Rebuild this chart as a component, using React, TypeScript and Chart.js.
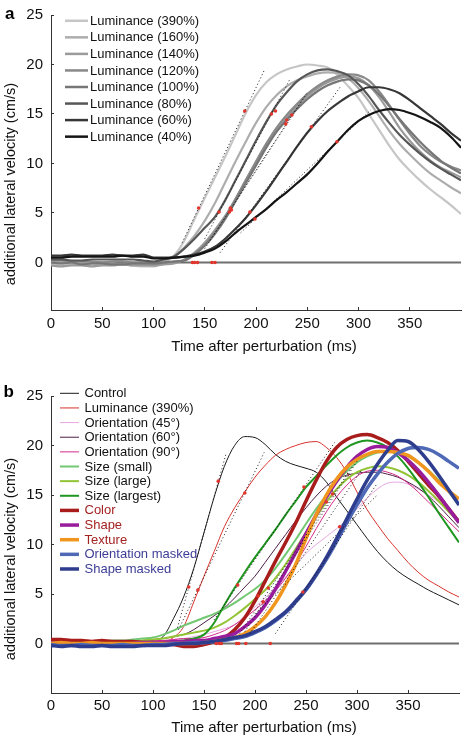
import React, { useEffect, useRef } from 'react';
import { Chart, registerables } from 'chart.js';

Chart.register(...registerables);

const FONT = '"Liberation Sans", Arial, Helvetica, sans-serif';

// ---------- shared axes ----------
const TIME_MS = [0, 10, 20, 30, 40, 50, 60, 70, 80, 90, 100, 110, 120, 130, 140, 150, 160, 170, 180, 190, 200,
  210, 220, 230, 240, 250, 260, 270, 280, 290, 300, 310, 320, 330, 340, 350, 360, 370, 380, 390, 400];
const X_TICKS = [0, 50, 100, 150, 200, 250, 300, 350];
const Y_TICKS = [0, 5, 10, 15, 20, 25];
const X_TITLE = 'Time after perturbation (ms)';
const Y_TITLE = 'additional lateral velocity (cm/s)';

// ---------- panel a : luminance ----------
const A_LUM390 = [-0.2, -0.3, -0.2, -0.1, -0.2, -0.1, -0.2, -0.2, -0.3, -0.4, -0.4, 0.0, 0.7, 2.2, 4.4, 6.5, 8.6, 10.7, 12.9, 15.1, 16.9, 18.2, 19.0, 19.5, 19.8, 20.0, 19.9, 19.7, 18.9, 17.8, 16.6, 15.0, 13.4, 11.8, 10.4, 9.3, 8.3, 7.4, 6.6, 5.8, 4.9];
const A_LUM160 = [0.1, 0.0, -0.1, -0.1, 0.0, -0.1, -0.1, -0.2, -0.2, -0.2, -0.3, 0.1, 0.6, 1.5, 2.7, 4.2, 6.0, 8.1, 10.2, 12.2, 14.1, 15.7, 16.9, 17.8, 18.4, 18.8, 19.1, 19.2, 19.1, 18.6, 17.6, 16.3, 14.8, 13.3, 12.0, 10.9, 9.9, 9.0, 8.3, 7.6, 7.0];
const A_LUM140 = [-0.3, -0.4, -0.3, -0.3, -0.4, -0.3, -0.3, -0.2, -0.3, -0.3, -0.3, -0.2, -0.1, 0.3, 1.0, 2.0, 3.3, 4.7, 6.4, 8.3, 10.1, 11.8, 13.3, 14.6, 15.8, 16.8, 17.6, 18.2, 18.6, 18.8, 18.6, 17.9, 16.7, 15.2, 13.6, 12.3, 11.2, 10.3, 9.6, 9.1, 8.6];
const A_LUM120 = [0.2, 0.2, 0.1, 0.1, 0.1, 0.0, 0.1, 0.1, 0.0, 0.0, -0.1, 0.0, 0.1, 0.2, 0.9, 1.8, 3.1, 4.6, 6.4, 8.3, 10.2, 12.0, 13.6, 14.9, 16.0, 17.0, 17.8, 18.4, 18.8, 19.0, 18.9, 18.4, 17.3, 15.9, 14.4, 13.0, 11.8, 10.9, 10.2, 9.7, 9.3];
const A_LUM100 = [0.0, -0.1, 0.0, -0.2, -0.1, -0.1, -0.2, -0.2, -0.1, -0.1, -0.1, 0.0, 0.1, 0.2, 0.8, 1.7, 2.9, 4.4, 6.2, 8.0, 9.8, 11.6, 13.2, 14.4, 15.5, 16.5, 17.3, 17.9, 18.3, 18.5, 18.4, 17.9, 17.0, 15.8, 14.5, 13.3, 12.2, 11.2, 10.3, 9.6, 9.0];
const A_LUM80 = [0.3, 0.3, 0.2, 0.2, 0.3, 0.3, 0.3, 0.3, 0.3, 0.2, 0.1, 0.3, 0.6, 1.4, 2.4, 3.5, 4.6, 6.3, 8.3, 10.3, 12.3, 14.2, 15.9, 17.2, 18.3, 19.0, 19.4, 19.5, 19.3, 18.9, 18.0, 16.8, 15.4, 14.1, 12.9, 11.9, 11.0, 10.2, 9.5, 8.9, 8.3];
const A_LUM60 = [0.7, 0.7, 0.8, 0.7, 0.7, 0.7, 0.8, 0.7, 0.7, 0.8, 0.5, 0.5, 0.5, 0.6, 0.8, 1.1, 1.6, 2.4, 3.4, 4.5, 5.8, 7.2, 8.7, 10.2, 11.7, 13.1, 14.3, 15.3, 16.1, 16.8, 17.3, 17.7, 17.7, 17.5, 17.1, 16.4, 15.6, 14.8, 14.0, 13.1, 12.3];
const A_LUM40 = [0.5, 0.5, 0.6, 0.6, 0.6, 0.6, 0.6, 0.7, 0.6, 0.6, 0.4, 0.4, 0.5, 0.6, 0.7, 1.0, 1.4, 2.1, 3.0, 3.8, 4.6, 5.4, 6.3, 7.1, 8.0, 8.9, 10.0, 11.2, 12.3, 13.4, 14.3, 14.9, 15.3, 15.5, 15.4, 15.1, 14.7, 14.2, 13.6, 12.7, 11.6];

const A_LABELS = ['Luminance (390%)', 'Luminance (160%)', 'Luminance (140%)', 'Luminance (120%)', 'Luminance (100%)', 'Luminance (80%)', 'Luminance (60%)', 'Luminance (40%)'];
const A_COLORS = ['#c6c6c6', '#adadad', '#9a9a9a', '#898989', '#767676', '#575757', '#373737', '#141414'];

// fitted slopes (t0, v0, t1, v1)
const A_FITS = [
  [128, 2.0, 208, 19.4],
  [150, 2.4, 233, 18.5],
  [150, 1.4, 248, 16.8],
  [155, 2.2, 250, 17.2],
  [165, 1.0, 282, 17.7],
  [185, 3.0, 312, 15.4],
];
const A_MARK_T = [144, 189, 164, 215, 219, 174, 175, 176, 229, 230, 235, 194, 254, 199, 279, 138, 140, 143, 157, 160];
const A_MARK_V = [5.5, 15.3, 5.1, 15.0, 15.3, 5.1, 5.5, 5.3, 14.0, 14.4, 14.9, 5.1, 13.7, 4.4, 12.2, 0, 0, 0, 0, 0];

// ---------- panel b : features ----------
const B_CONTROL = [0.1, 0.0, 0.1, 0.0, 0.0, 0.1, 0.0, 0.0, 0.1, 0.2, 0.3, 0.7, 2.5, 4.7, 7.6, 11.2, 14.8, 17.9, 20.0, 20.9, 20.8, 20.1, 19.1, 18.4, 18.0, 17.7, 17.3, 16.3, 14.8, 13.4, 12.0, 10.6, 9.3, 8.2, 7.3, 6.6, 6.0, 5.4, 4.9, 4.4, 3.9];
const B_LUM390 = [0.1, 0.1, 0.2, 0.1, 0.0, 0.1, 0.1, 0.0, 0.1, 0.1, 0.2, 0.2, 0.6, 1.7, 4.2, 6.8, 9.3, 11.8, 13.7, 15.3, 16.8, 18.0, 19.0, 19.6, 20.0, 20.3, 20.4, 19.8, 18.8, 17.3, 15.3, 13.5, 12.0, 10.6, 9.4, 8.2, 7.2, 6.4, 5.8, 5.2, 4.7];
const B_ORI45 = [0.0, 0.1, 0.0, 0.1, 0.1, 0.0, 0.1, 0.1, 0.1, 0.2, 0.2, 0.3, 0.4, 0.5, 0.7, 0.9, 1.2, 1.5, 1.9, 2.8, 3.7, 4.6, 5.6, 6.7, 7.9, 9.1, 10.0, 10.8, 11.6, 12.5, 13.6, 14.7, 15.6, 16.2, 16.3, 16.1, 15.6, 15.0, 14.3, 13.4, 12.5];
const B_ORI60 = [0.2, 0.1, 0.2, 0.2, 0.1, 0.2, 0.2, 0.1, 0.2, 0.3, 0.4, 0.5, 0.7, 0.9, 1.4, 2.1, 2.8, 3.6, 4.6, 5.7, 6.8, 8.2, 9.6, 11.0, 12.4, 13.7, 14.9, 15.9, 16.6, 17.0, 17.2, 17.3, 17.3, 17.1, 16.8, 16.3, 15.7, 14.9, 13.9, 12.8, 11.7];
const B_ORI90 = [0.1, 0.2, 0.1, 0.1, 0.2, 0.1, 0.1, 0.2, 0.2, 0.2, 0.3, 0.3, 0.4, 0.5, 0.5, 0.6, 0.9, 1.3, 1.9, 2.6, 3.4, 4.3, 5.3, 6.6, 8.1, 9.8, 11.6, 13.3, 14.8, 16.0, 16.9, 17.4, 17.5, 17.3, 16.9, 16.2, 15.3, 14.3, 13.3, 12.3, 11.3];
const B_SIZE_SMALL = [0.1, 0.2, 0.1, 0.2, 0.2, 0.2, 0.3, 0.3, 0.4, 0.5, 0.6, 0.9, 1.3, 1.8, 2.2, 2.6, 3.0, 3.5, 4.1, 4.8, 5.5, 6.4, 7.6, 9.0, 10.5, 12.1, 13.6, 15.0, 16.3, 17.4, 18.3, 18.9, 19.3, 19.4, 19.3, 18.9, 18.3, 17.5, 16.5, 15.3, 14.0];
const B_SIZE_LARGE = [0.1, 0.0, 0.1, 0.1, 0.0, 0.1, 0.1, 0.2, 0.2, 0.3, 0.4, 0.5, 0.7, 0.9, 1.1, 1.3, 1.6, 2.1, 2.8, 3.6, 4.5, 5.4, 6.6, 8.0, 9.6, 11.2, 12.8, 14.3, 15.6, 16.6, 17.3, 17.7, 17.9, 17.8, 17.5, 17.0, 16.3, 15.4, 14.4, 13.3, 12.2];
const B_SIZE_LARGEST = [0.0, -0.1, 0.0, 0.0, -0.1, 0.0, 0.0, 0.0, 0.1, 0.1, 0.1, 0.1, 0.2, 0.3, 0.5, 0.9, 2.1, 3.9, 5.6, 7.2, 8.7, 10.1, 11.5, 13.0, 14.4, 15.8, 16.9, 18.0, 19.0, 19.8, 20.3, 20.5, 20.3, 19.8, 18.9, 17.7, 16.3, 14.8, 13.2, 11.7, 10.2];
const B_COLOR = [0.4, 0.4, 0.3, 0.3, 0.2, 0.3, 0.2, 0.2, 0.2, 0.1, 0.1, 0.0, -0.1, -0.3, -0.3, -0.1, 0.2, 0.6, 1.4, 2.6, 4.3, 6.3, 8.3, 10.2, 12.2, 14.4, 16.5, 18.4, 19.8, 20.6, 21.0, 21.1, 20.8, 20.3, 19.5, 18.4, 17.2, 16.0, 14.9, 13.6, 12.3];
const B_SHAPE = [0.1, 0.0, 0.0, -0.1, 0.0, 0.0, -0.1, -0.1, 0.0, 0.1, 0.1, 0.1, 0.2, 0.2, 0.3, 0.3, 0.5, 0.7, 1.0, 1.7, 2.6, 3.9, 5.5, 7.3, 9.2, 11.1, 13.0, 14.8, 16.4, 17.8, 18.9, 19.6, 19.9, 19.8, 19.3, 18.5, 17.5, 16.3, 15.0, 13.6, 12.2];
const B_TEXTURE = [0.0, 0.1, 0.0, 0.0, 0.1, 0.0, 0.0, 0.0, 0.0, 0.0, 0.0, 0.0, 0.0, 0.0, 0.0, 0.1, 0.2, 0.4, 0.6, 1.0, 1.7, 2.7, 4.1, 5.9, 8.0, 10.6, 13.0, 15.0, 16.6, 17.8, 18.6, 19.1, 19.4, 19.4, 19.3, 19.0, 18.3, 17.4, 16.3, 15.4, 14.6];
const B_ORI_MASKED = [-0.1, -0.2, -0.2, -0.1, -0.2, -0.2, -0.2, -0.1, -0.2, -0.2, -0.1, -0.1, 0.0, 0.0, 0.1, 0.1, 0.2, 0.3, 0.5, 0.7, 1.1, 1.6, 2.3, 3.1, 4.2, 5.4, 6.9, 8.5, 10.3, 12.2, 14.0, 15.7, 17.1, 18.3, 19.2, 19.7, 19.8, 19.6, 19.1, 18.4, 17.7];
const B_SHAPE_MASKED = [-0.2, -0.3, -0.2, -0.3, -0.3, -0.2, -0.3, -0.3, -0.3, -0.2, -0.2, -0.2, -0.1, 0.0, 0.0, 0.1, 0.2, 0.4, 0.6, 0.8, 1.2, 1.7, 2.4, 3.2, 4.3, 5.5, 7.0, 8.7, 10.6, 12.6, 14.6, 16.5, 18.1, 19.5, 20.5, 20.4, 19.6, 18.4, 17.0, 15.5, 14.0];

const B_LABELS = ['Control', 'Luminance (390%)', 'Orientation (45°)', 'Orientation (60°)', 'Orientation (90°)', 'Size (small)', 'Size (large)', 'Size (largest)', 'Color', 'Shape', 'Texture', 'Orientation masked', 'Shape masked'];
const B_COLORS = ['#1a1a1a', '#d8322c', '#e6a6e0', '#4c1f44', '#d42a88', '#72c872', '#92c436', '#1f961f', '#a81c1c', '#981c9c', '#f0961e', '#4f69b6', '#2f3d8e'];
const B_WIDTHS = [1, 1, 1, 1, 1, 2, 2, 2, 3.5, 3.5, 3.5, 3.5, 3.5];
const B_TEXT_COLORS = ['#111', '#111', '#111', '#111', '#111', '#111', '#111', '#111', '#a32222', '#a32222', '#a32222', '#3d3d97', '#3d3d97'];

const B_FITS = [
  [124, 1.6, 172, 19.3],
  [125, 1.4, 209, 19.3],
  [160, 2.4, 278, 20.3],
  [185, 1.0, 295, 17.8],
  [190, 1.2, 300, 18.4],
  [195, 1.0, 305, 17.6],
  [200, 3.0, 320, 15.0],
  [220, 1.0, 320, 16.2],
];
const B_MARK_T = [135, 164, 144, 190, 183, 248, 247, 283, 203, 208, 213, 270, 276, 162, 165, 167, 182, 184, 191, 215];
const B_MARK_V = [5.7, 16.4, 5.4, 15.2, 5.9, 15.8, 5.2, 11.8, 4.8, 4.2, 5.6, 14.3, 15.1, 0, 0, 0, 0, 0, 0, 0];

// ---------- helpers ----------
function curve(label: string, values: number[], color: string, width: number, order: number) {
  return {
    type: 'line' as const,
    label,
    data: TIME_MS.map((t, i) => ({ x: t, y: values[i] })),
    borderColor: color,
    backgroundColor: color,
    borderWidth: width,
    pointRadius: 0,
    cubicInterpolationMode: 'monotone' as const,
    fill: false,
    order,
  };
}

function fitLines(fits: number[][]) {
  return fits.map((f, i) => ({
    type: 'line' as const,
    label: 'fit' + i,
    data: [{ x: f[0], y: f[1] }, { x: f[2], y: f[3] }],
    borderColor: '#1a1a1a',
    borderWidth: 1,
    borderDash: [1, 2.5],
    pointRadius: 0,
    fill: false,
    order: 1,
  }));
}

function markers(ts: number[], vs: number[]) {
  return {
    type: 'scatter' as const,
    label: 'markers',
    data: ts.map((t, i) => ({ x: t, y: vs[i] })),
    backgroundColor: '#e2352c',
    borderWidth: 0,
    pointRadius: 1.8,
    order: 0,
  };
}

function zeroLine() {
  return {
    type: 'line' as const,
    label: 'zero',
    data: [{ x: 0, y: 0 }, { x: 400, y: 0 }],
    borderColor: '#6f6f6f',
    borderWidth: 2,
    pointRadius: 0,
    fill: false,
    order: 1000,
  };
}

type LegendItem = { text: string; color: string; width: number; textColor: string };

const decorPlugin = {
  id: 'panelDecor',
  afterDraw(chart: any, _args: any, opts: any) {
    const ctx = chart.ctx as CanvasRenderingContext2D;
    ctx.save();
    // panel letter
    ctx.fillStyle = '#000';
    ctx.font = `bold 17px ${FONT}`;
    ctx.textAlign = 'left';
    ctx.textBaseline = 'alphabetic';
    ctx.fillText(opts.letter, opts.letterX, opts.letterY);
    // legend
    ctx.font = `13px ${FONT}`;
    ctx.textBaseline = 'middle';
    const items: LegendItem[] = opts.items;
    items.forEach((it, i) => {
      const y = opts.legendY0 + i * opts.legendDy;
      ctx.strokeStyle = it.color;
      ctx.lineWidth = it.width;
      ctx.beginPath();
      ctx.moveTo(opts.lineX0, y);
      ctx.lineTo(opts.lineX1, y);
      ctx.stroke();
      ctx.fillStyle = it.textColor;
      ctx.fillText(it.text, opts.textX, y + 0.5);
    });
    // x title
    ctx.font = `15px ${FONT}`;
    ctx.fillStyle = '#111';
    ctx.textAlign = 'center';
    ctx.textBaseline = 'middle';
    ctx.fillText(X_TITLE, opts.xTitleX, opts.xTitleY);
    // y title
    ctx.translate(opts.yTitleX, opts.yTitleY);
    ctx.rotate(-Math.PI / 2);
    ctx.font = `14.5px ${FONT}`;
    ctx.fillText(Y_TITLE, 0, 0);
    ctx.restore();
  },
};

function makeScales(yMin: number, xAxisH: number, xTickPad: number) {
  const gridOpts = { drawOnChartArea: false, drawTicks: true, tickLength: -3, color: '#333', lineWidth: 1 };
  const borderOpts = { display: true, color: '#333', width: 1 };
  return {
    x: {
      type: 'linear' as const,
      min: 0,
      max: 400,
      afterBuildTicks: (s: any) => { s.ticks = X_TICKS.map((v) => ({ value: v })); },
      afterFit: (s: any) => { s.height = xAxisH; s.paddingLeft = 0; s.paddingRight = 0; },
      grid: gridOpts,
      border: borderOpts,
      ticks: { padding: xTickPad, color: '#111', font: { family: FONT, size: 15, lineHeight: 1.2 }, maxRotation: 0, autoSkip: false },
      title: { display: false, text: X_TITLE },
    },
    y: {
      type: 'linear' as const,
      min: yMin,
      max: 25,
      afterBuildTicks: (s: any) => { s.ticks = Y_TICKS.map((v) => ({ value: v })); },
      afterFit: (s: any) => { s.width = 51; s.paddingTop = 0; s.paddingBottom = 0; },
      grid: gridOpts,
      border: borderOpts,
      ticks: { padding: 11, color: '#111', font: { family: FONT, size: 15 } },
      title: { display: false, text: Y_TITLE },
    },
  };
}

function configA(): any {
  const series = [A_LUM390, A_LUM160, A_LUM140, A_LUM120, A_LUM100, A_LUM80, A_LUM60, A_LUM40];
  const datasets: any[] = [
    markers(A_MARK_T, A_MARK_V),
    ...fitLines(A_FITS),
    ...series.map((s, i) => curve(A_LABELS[i], s, A_COLORS[i], 2.2, 20 - i)),
    zeroLine(),
  ];
  const items: LegendItem[] = A_LABELS.map((l, i) => ({ text: l, color: A_COLORS[i], width: 2.5, textColor: '#111' }));
  return {
    data: { datasets },
    options: {
      animation: false,
      responsive: false,
      layout: { padding: { top: 15, right: 5, left: 0, bottom: 0 } },
      scales: makeScales(-4.8, 58, 8),
      plugins: {
        legend: { display: false },
        tooltip: { enabled: false },
        panelDecor: {
          letter: 'a', letterX: 5, letterY: 18.5,
          items, legendY0: 20.8, legendDy: 16.55, lineX0: 65, lineX1: 88, textX: 90,
          yTitleX: 10.5, yTitleY: 184,
          xTitleX: 264, xTitleY: 347,
        },
      },
    },
    plugins: [decorPlugin],
  };
}

function configB(): any {
  const series = [B_CONTROL, B_LUM390, B_ORI45, B_ORI60, B_ORI90, B_SIZE_SMALL, B_SIZE_LARGE, B_SIZE_LARGEST, B_COLOR, B_SHAPE, B_TEXTURE, B_ORI_MASKED, B_SHAPE_MASKED];
  const datasets: any[] = [
    markers(B_MARK_T, B_MARK_V),
    ...fitLines(B_FITS),
    ...series.map((s, i) => curve(B_LABELS[i], s, B_COLORS[i], B_WIDTHS[i], 30 - i)),
    zeroLine(),
  ];
  const items: LegendItem[] = B_LABELS.map((l, i) => ({ text: l, color: B_COLORS[i], width: B_WIDTHS[i], textColor: B_TEXT_COLORS[i] }));
  return {
    data: { datasets },
    options: {
      animation: false,
      responsive: false,
      layout: { padding: { top: 28, right: 7, left: 0, bottom: 0 } },
      scales: makeScales(-5, 43, 7),
      plugins: {
        legend: { display: false },
        tooltip: { enabled: false },
        panelDecor: {
          letter: 'b', letterX: 3.5, letterY: 29,
          items, legendY0: 25.3, legendDy: 14.64, lineX0: 60, lineX1: 79, textX: 84.5,
          yTitleX: 10.5, yTitleY: 191,
          xTitleX: 264, xTitleY: 360,
        },
      },
    },
    plugins: [decorPlugin],
  };
}

function Panel({ make }: { make: () => any }) {
  const ref = useRef<HTMLCanvasElement>(null);
  useEffect(() => {
    const chart = new Chart(ref.current as HTMLCanvasElement, make());
    return () => chart.destroy();
  }, [make]);
  return <canvas ref={ref} width={466} height={368} style={{ display: 'block', width: 466, height: 368 }} />;
}

export default function App() {
  useEffect(() => {
    document.body.style.margin = '0';
    document.body.style.background = '#fff';
  }, []);
  return (
    <div style={{ width: 466, height: 736, background: '#fff' }}>
      <Panel make={configA} />
      <Panel make={configB} />
    </div>
  );
}
